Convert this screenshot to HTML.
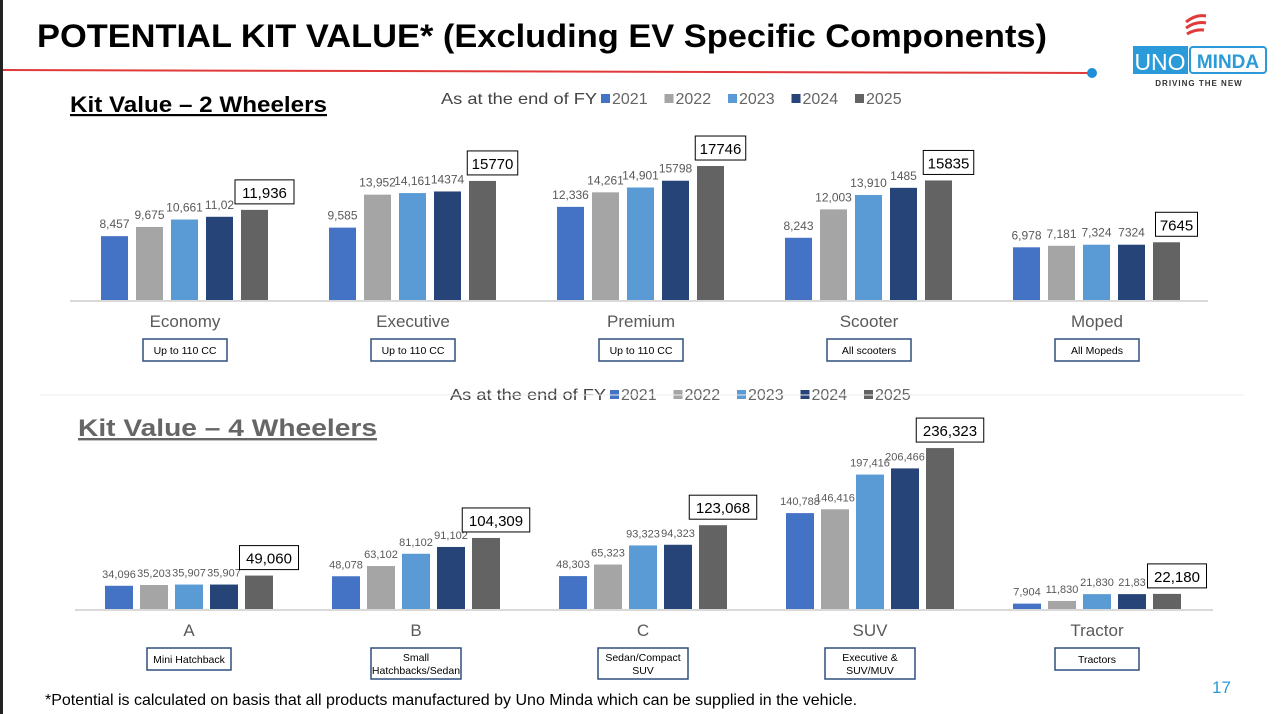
<!DOCTYPE html>
<html><head><meta charset="utf-8"><style>
body{margin:0;width:1284px;height:714px;overflow:hidden;background:#fff;font-family:"Liberation Sans",sans-serif}
svg{position:absolute;left:0;top:0}
</style></head><body>
<svg id="s" width="1284" height="714">
<rect x="0" y="0" width="3" height="714" fill="#222"/>
<text x="37" y="47" font-size="32" font-weight="bold" fill="#000" textLength="1010" lengthAdjust="spacingAndGlyphs">POTENTIAL KIT VALUE* (Excluding EV Specific Components)</text>
<line x1="3" y1="70" x2="1092" y2="73" stroke="#e03a3a" stroke-width="2"/>
<circle cx="1092" cy="73" r="5" fill="#1f8fd8"/>
<g>
<path d="M1186 22 q10 -8 20 -6 M1186 28 q10 -7 20 -5 M1187 34 q8 -5 17 -4" stroke="#e03a3a" stroke-width="3" fill="none"/>
<rect x="1133" y="46" width="55" height="28" fill="#2a9ad8"/>
<text x="1160" y="70" font-size="23" fill="#fff" text-anchor="middle">UNO</text>
<rect x="1190" y="47" width="76" height="26" fill="#fff" stroke="#2a9ad8" stroke-width="2" rx="3"/>
<text x="1228" y="68" font-size="19" font-weight="bold" fill="#2a9ad8" text-anchor="middle">MINDA</text>
<text x="1199" y="86" font-size="8" font-weight="bold" fill="#333" text-anchor="middle" letter-spacing="1">DRIVING THE NEW</text>
</g>
<text x="70" y="112" font-size="22" font-weight="bold" text-decoration="underline" fill="#000" textLength="257" lengthAdjust="spacingAndGlyphs">Kit Value – 2 Wheelers</text>
<text x="78" y="436" font-size="24" font-weight="bold" text-decoration="underline" fill="#666" textLength="299" lengthAdjust="spacingAndGlyphs">Kit Value – 4 Wheelers </text>
<text x="45" y="705" font-size="16" fill="#000">*Potential is calculated on basis that all products manufactured by Uno Minda which can be supplied in the vehicle.</text>
<text x="1212" y="693" font-size="17" fill="#2a9ad8">17</text>
</svg>
<script>
const years=["2021","2022","2023","2024","2025"];
const colors=["#4472c4","#a5a5a5","#5b9bd5","#264478","#636363"];
const cats2=["Economy","Executive","Premium","Scooter","Moped"];
const subs2=[["Up to 110 CC"],["Up to 110 CC"],["Up to 110 CC"],["All scooters"],["All Mopeds"]];
const lab2=[["8,457","9,675","10,661","11,02","11,936"],["9,585","13,952","14,161","14374","15770"],["12,336","14,261","14,901","15798","17746"],["8,243","12,003","13,910","1485","15835"],["6,978","7,181","7,324","7324","7645"]];
const vals2=[[8457,9675,10661,11020,11936],[9585,13952,14161,14374,15770],[12336,14261,14901,15798,17746],[8243,12003,13910,14857,15835],[6978,7181,7324,7324,7645]];
const cats4=["A","B","C","SUV","Tractor"];
const subs4=[["Mini Hatchback"],["Small","Hatchbacks/Sedan"],["Sedan/Compact","SUV"],["Executive &","SUV/MUV"],["Tractors"]];
const vals4=[[34096,35203,35907,35907,49060],[48078,63102,81102,91102,104309],[48303,65323,93323,94323,123068],[140788,146416,197416,206466,236323],[7904,11830,21830,21830,22180]];
const lab4=[["34,096","35,203","35,907","35,907","49,060"],["48,078","63,102","81,102","91,102","104,309"],["48,303","65,323","93,323","94,323","123,068"],["140,788","146,416","197,416","206,466","236,323"],["7,904","11,830","21,830","21,83","22,180"]];
const S=document.getElementById('s');const NS="http://www.w3.org/2000/svg";
function mk(t,a,txt){const e=document.createElementNS(NS,t);for(const k in a)e.setAttribute(k,a[k]);if(txt!==undefined)e.textContent=txt;S.appendChild(e);return e;}
function chart(o){
 const y=v=>o.base-v*o.k;
 let ax=mk('line',{x1:o.x0,x2:o.x1,y1:o.base+1,y2:o.base+1,stroke:'#d9d9d9','stroke-width':2});
 
 let lt=mk('text',{x:o.lx,y:o.ly,'font-size':16,fill:'#444',textLength:156,lengthAdjust:'spacingAndGlyphs'},'As at the end of FY');
 
 let lx=o.lx+160;
 years.forEach((yr,i)=>{let r=mk('rect',{x:lx,y:o.ly-10,width:9,height:9,fill:colors[i]});
  
  let t=mk('text',{x:lx+11,y:o.ly,'font-size':16,fill:'#666'},yr);
  lx+=63.5;});
 o.cats.forEach((c,g)=>{
  const cx=o.c0+g*o.step;
  o.vals[g].forEach((v,i)=>{
   const bx=cx-84+i*35;
   let b=mk('rect',{x:bx,y:y(v),width:o.bw,height:v*o.k,fill:colors[i]});
   
   const mid=bx+o.bw/2;
   if(i<4){let t=mk('text',{x:mid,y:y(v)-8,'font-size':o.fs,fill:'#595959','text-anchor':'middle'},o.labs[g][i]);
    }
   else{const w=o.labs[g][i].length*8.5+8;
    let r=mk('rect',{x:mid-w/2+10,y:y(v)-30,width:w,height:24,fill:'#fff',stroke:'#000','stroke-width':1});
    
    let t=mk('text',{x:mid+10,y:y(v)-12,'font-size':15,fill:'#000','text-anchor':'middle'},o.labs[g][i]);
    }
  });
  let ct=mk('text',{x:cx,y:o.base+27,'font-size':17,fill:'#595959','text-anchor':'middle'},c);
  
  const sub=o.subs[g];const bh=sub.length>1?31:22;const bw=sub.length>1?90:84;
  let br=mk('rect',{x:cx-bw/2,y:o.base+39,width:bw,height:bh,fill:'#fff',stroke:'#2f4f7f','stroke-width':1.5});
  
  sub.forEach((s,j)=>{let t=mk('text',{x:cx,y:o.base+39+(sub.length>1?13+j*13:15),'font-size':10.5,fill:'#000','text-anchor':'middle'},s);
   });
 });
}
chart({id:'two-wheeler',cats:cats2,vals:vals2,labs:lab2,subs:subs2,base:300,k:0.00755,c0:185,step:228,bw:27,x0:70,x1:1208,lx:441,ly:104,fs:12});
chart({id:'four-wheeler',cats:cats4,vals:vals4,labs:lab4,subs:subs4,base:609,k:0.000681,c0:189,step:227,bw:28,x0:75,x1:1213,lx:450,ly:400,fs:11});
let sep=mk('line',{x1:40,x2:1244,y1:395,y2:395,stroke:'#eee','stroke-width':1});


</script>
</body></html>
